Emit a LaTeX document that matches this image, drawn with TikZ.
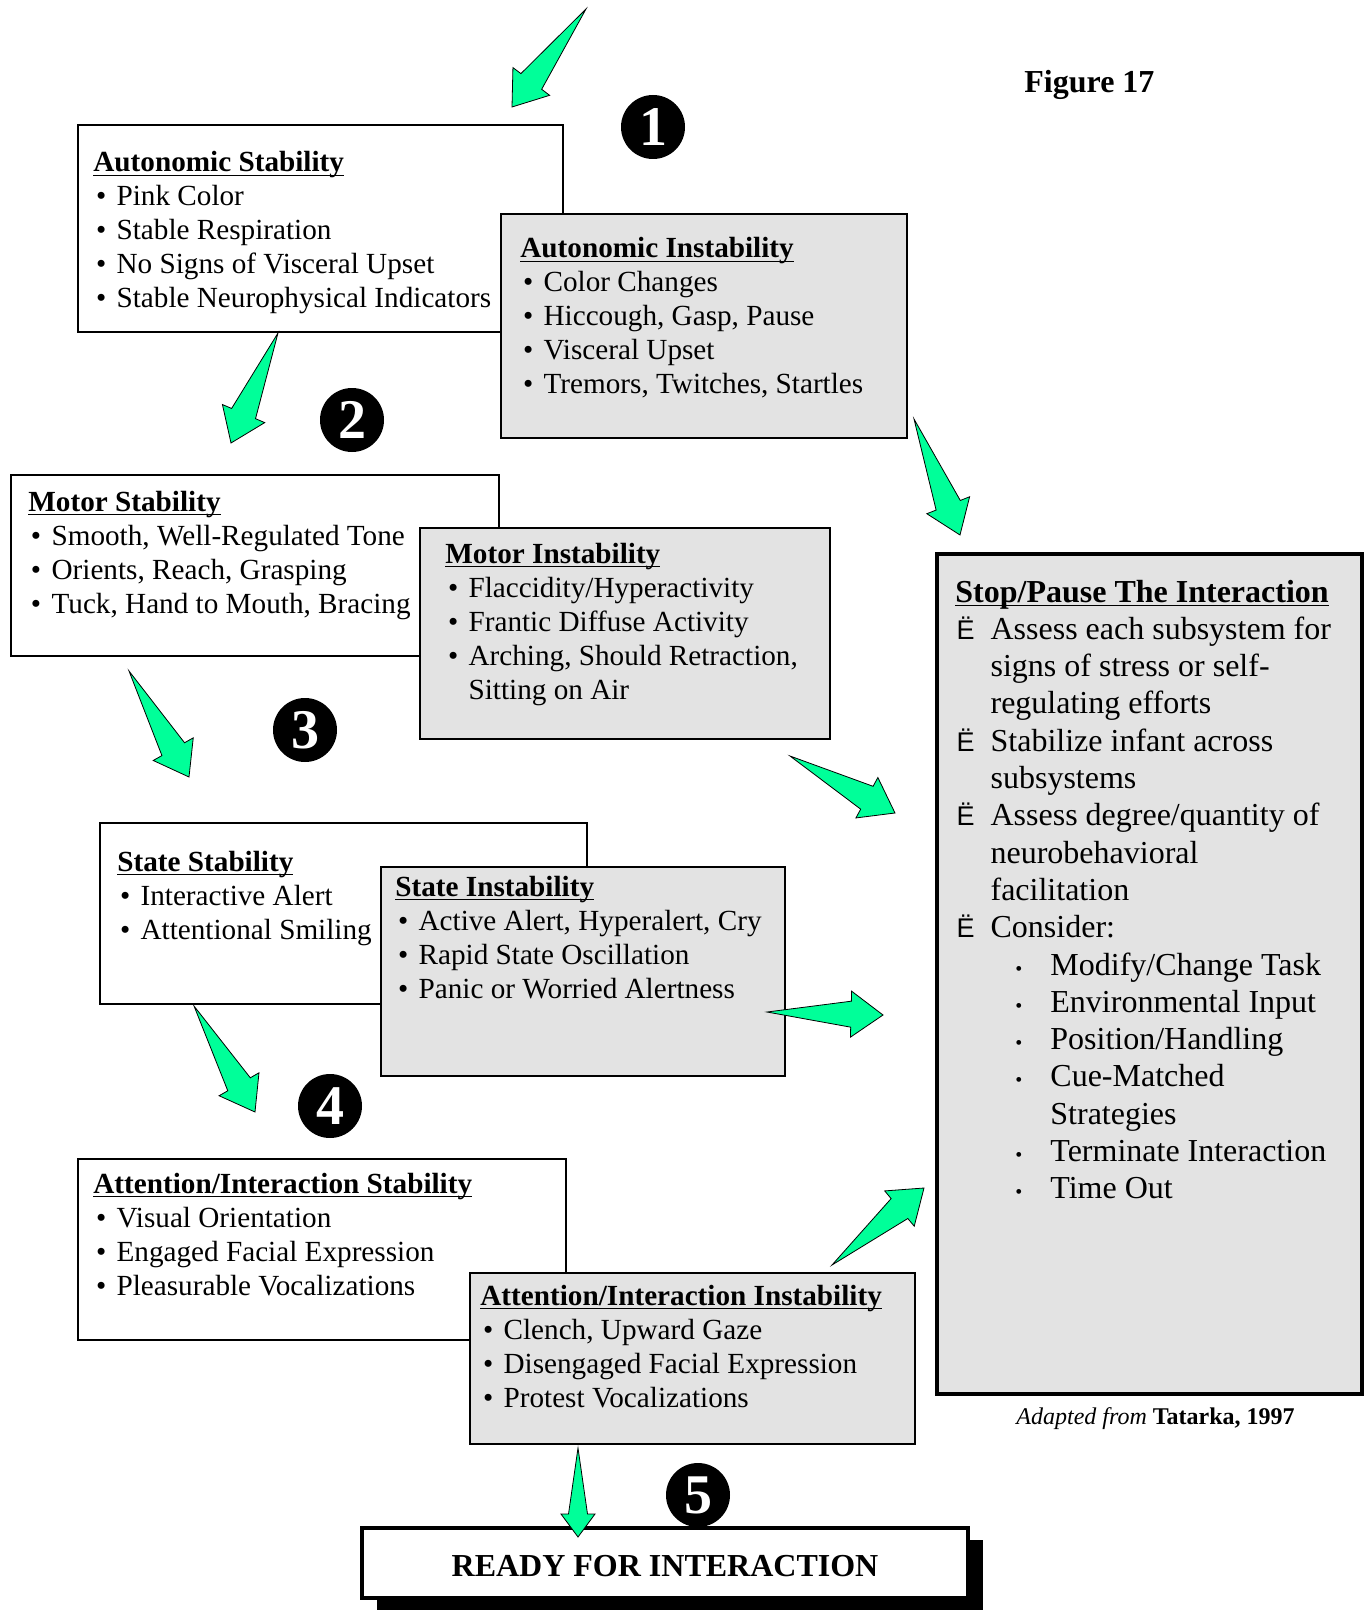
\documentclass[tikz,border=0pt]{standalone}
\usepackage{fontspec}
\setmainfont{Liberation Serif}
\newfontfamily\arialfont{Liberation Sans}
\usetikzlibrary{calc,fit,shadows}
\definecolor{boxgray}{RGB}{227,227,227}
\definecolor{arrowgreen}{RGB}{0,255,153}
\newsavebox\ulbox
\newcommand\ulx[1]{\sbox\ulbox{#1}\rlap{\rule[-2.2pt]{\wd\ulbox}{0.9pt}}\usebox\ulbox}
\newcommand\bl{\makebox[11.6pt][l]{\hspace{1.3pt}•}}
\newcommand\bi{\hspace{11.6pt}}
\newcommand\Eb{\makebox[17.6pt][l]{\hspace{0.6pt}{\arialfont\fontsize{13.5}{13.5}\selectfont Ë}}}
\newcommand\Ei{\hspace{17.6pt}}
\newcommand\Sb{\makebox[47.5pt][l]{\hspace{30pt}{\fontsize{10}{10}\selectfont •}}}
\newcommand\Si{\hspace{47.5pt}}
\newcommand\garrow[5]{%
  \coordinate (gaB) at ($(#2)!#3!(#1)$);
  \draw[greenarrow] (#1) -- ($(gaB)!#5!90:(#2)$) -- ($(gaB)!#4!90:(#2)$) -- (#2)
    -- ($(gaB)!#4!-90:(#2)$) -- ($(gaB)!#5!-90:(#2)$) -- cycle;}
\tikzset{
  wbox/.style={draw=black, line width=1pt, fill=white, inner sep=0pt},
  gbox/.style={draw=black, line width=1pt, fill=boxgray, inner sep=0pt},
  body/.style={anchor=base west, inner sep=0pt, font=\fontsize{14.6}{17}\selectfont},
  stoptext/.style={anchor=base west, inner sep=0pt, font=\fontsize{16}{18.65}\selectfont},
  numc/.style={circle, fill=black, inner sep=0pt, minimum size=32pt, text=white,
    font=\fontsize{28}{28}\selectfont\bfseries},
  greenarrow/.style={draw=black, line width=0.4pt, fill=arrowgreen, line join=miter}
}
\begin{document}
\begin{tikzpicture}[x=0.5pt,y=-0.5pt]
\useasboundingbox (0,0) rectangle (1368,1610);
\fill[white] (0,0) rectangle (1368,1610);

% Autonomic
\node[wbox, fit={(78,125) (563,332)}] (asbox) {};
\node[body] (astxt) at (93,172) {\begin{tabular}[t]{@{}l@{}}
\ulx{\textbf{Autonomic Stability}}\\
\bl Pink Color\\
\bl Stable Respiration\\
\bl No Signs of Visceral Upset\\
\bl Stable Neurophysical Indicators
\end{tabular}};
\node[gbox, fit={(501,214) (907,438)}] (aibox) {};
\node[body] (aitxt) at (520,258) {\begin{tabular}[t]{@{}l@{}}
\ulx{\textbf{Autonomic Instability}}\\
\bl Color Changes\\
\bl Hiccough, Gasp, Pause\\
\bl Visceral Upset\\
\bl Tremors, Twitches, Startles
\end{tabular}};

% Motor
\node[wbox, fit={(11,475) (499,656)}] (msbox) {};
\node[body] (mstxt) at (28,511) {\begin{tabular}[t]{@{}l@{}}
\ulx{\textbf{Motor Stability}}\\
\bl Smooth, Well-Regulated Tone\\
\bl Orients, Reach, Grasping\\
\bl Tuck, Hand to Mouth, Bracing
\end{tabular}};
\node[gbox, fit={(420,528) (830,739)}] (mibox) {};
\node[body] (mitxt) at (445,563) {\begin{tabular}[t]{@{}l@{}}
\ulx{\textbf{Motor Instability}}\\
\bl Flaccidity/Hyperactivity\\
\bl Frantic Diffuse Activity\\
\bl Arching, Should Retraction,\\
\bi Sitting on Air
\end{tabular}};

% State
\node[wbox, fit={(100,823) (587,1004)}] (ssbox) {};
\node[body] (sstxt) at (117,871) {\begin{tabular}[t]{@{}l@{}}
\ulx{\textbf{State Stability}}\\
\bl Interactive Alert\\
\bl Attentional Smiling
\end{tabular}};
\node[gbox, fit={(381,867) (785,1076)}] (sibox) {};
\node[body] (sitxt) at (395,896) {\begin{tabular}[t]{@{}l@{}}
\ulx{\textbf{State Instability}}\\
\bl Active Alert, Hyperalert, Cry\\
\bl Rapid State Oscillation\\
\bl Panic or Worried Alertness
\end{tabular}};

% Attention
\node[wbox, fit={(78,1159) (566,1340)}] (atsbox) {};
\node[body] (atstxt) at (93,1193) {\begin{tabular}[t]{@{}l@{}}
\ulx{\textbf{Attention/Interaction Stability}}\\
\bl Visual Orientation\\
\bl Engaged Facial Expression\\
\bl Pleasurable Vocalizations
\end{tabular}};
\node[gbox, fit={(470,1273) (915,1444)}] (atibox) {};
\node[body] (atitxt) at (480,1305) {\begin{tabular}[t]{@{}l@{}}
\ulx{\textbf{Attention/Interaction Instability}}\\
\bl Clench, Upward Gaze\\
\bl Disengaged Facial Expression\\
\bl Protest Vocalizations
\end{tabular}};

% Stop box
\node[gbox, line width=1.6pt, fit={(937,554) (1362,1394)}] (stopbox) {};
\node[stoptext] (stoptxt) at (955,602) {\begin{tabular}[t]{@{}l@{}}
\ulx{\textbf{Stop/Pause The Interaction}}\\
\Eb Assess each subsystem for\\
\Ei signs of stress or self-\\
\Ei regulating efforts\\
\Eb Stabilize infant across\\
\Ei subsystems\\
\Eb Assess degree/quantity of\\
\Ei neurobehavioral\\
\Ei facilitation\\
\Eb Consider:\\
\Sb Modify/Change Task\\
\Sb Environmental Input\\
\Sb Position/Handling\\
\Sb Cue-Matched\\
\Si Strategies\\
\Sb Terminate Interaction\\
\Sb Time Out
\end{tabular}};

% Ready box
\node[draw=black, line width=1.6pt, fill=white, inner sep=0pt, fit={(362,1528) (968,1598)},
  drop shadow={shadow xshift=7.5pt, shadow yshift=-6pt, fill=black, opacity=1}] (ready) {};
\node[anchor=base, inner sep=0pt, font=\fontsize{16}{18}\selectfont\bfseries] (readytxt)
  at (665,1576) {READY FOR INTERACTION};

% labels
\node[anchor=base west, inner sep=0pt, font=\fontsize{16}{18}\selectfont\bfseries] (fig)
  at (1024,92.5) {Figure 17};
\node[anchor=base west, inner sep=0pt, font=\fontsize{12}{14}\selectfont] (adapt)
  at (1016,1424) {\textit{Adapted from} \textbf{Tatarka, 1997}};

% numbers
\node[numc] (n1) at (653,127) {1};
\node[numc] (n2) at (352,420) {2};
\node[numc] (n3) at (305,730) {3};
\node[numc] (n4) at (330,1106) {4};
\node[numc] (n5) at (698,1495) {5};

% arrows
\coordinate (a1t) at (586,9);    \coordinate (a1h) at (512,107);
\coordinate (a2t) at (278,333);  \coordinate (a2h) at (231,443);
\coordinate (a3t) at (914,419);  \coordinate (a3h) at (960,535);
\coordinate (a4t) at (129,671);  \coordinate (a4h) at (189,777);
\coordinate (a5t) at (790,756);  \coordinate (a5h) at (895,813);
\coordinate (a6t) at (194,1006); \coordinate (a6h) at (255,1112);
\coordinate (a7t) at (767,1012); \coordinate (a7h) at (883,1015);
\coordinate (a8t) at (832,1265); \coordinate (a8h) at (924,1188);
\coordinate (a9t) at (578,1448); \coordinate (a9h) at (578,1537);
\garrow{a1t}{a1h}{16pt}{11.5pt}{6.5pt}
\garrow{a2t}{a2h}{16pt}{11.5pt}{6.5pt}
\garrow{a3t}{a3h}{16pt}{11.5pt}{6.5pt}
\garrow{a4t}{a4h}{16pt}{11.5pt}{6.5pt}
\garrow{a5t}{a5h}{16pt}{11.5pt}{6.5pt}
\garrow{a6t}{a6h}{16pt}{11.5pt}{6.5pt}
\garrow{a7t}{a7h}{16pt}{11.5pt}{6.5pt}
\garrow{a8t}{a8h}{16pt}{11.5pt}{6.5pt}
\garrow{a9t}{a9h}{11.5pt}{8.5pt}{4.75pt}
\end{tikzpicture}
\end{document}
